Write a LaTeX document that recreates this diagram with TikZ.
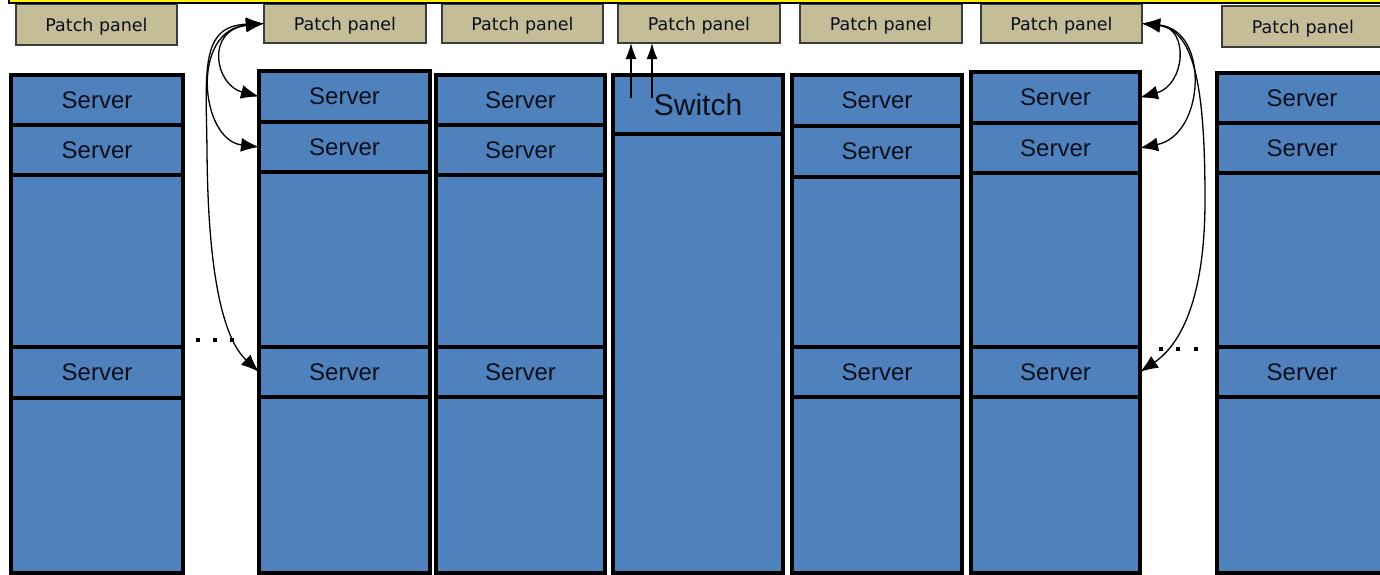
\documentclass[tikz,border=0pt]{standalone}
\usepackage{fontspec}
\setmainfont{Liberation Sans}
\newfontfamily\ppfont{DejaVu Sans}
\usetikzlibrary{arrows.meta}
\definecolor{rackblue}{HTML}{4F81BD}
\definecolor{patchtan}{HTML}{C4BD97}
\definecolor{txtc}{HTML}{0A0F1C}
\definecolor{ppborder}{HTML}{3C3C3C}
\begin{document}
\begin{tikzpicture}[x=1pt,y=-1pt,
  rack/.style={draw=black, line width=3.2pt, fill=rackblue, anchor=north west, inner sep=0pt, outer sep=0pt},
  srv/.style={draw=black, line width=3.2pt, fill=rackblue, anchor=north west, inner sep=0pt, outer sep=0pt,
     minimum height=50, text=txtc, font=\fontsize{24}{26}\selectfont},
  patch/.style={draw=ppborder, line width=2pt, fill=patchtan, anchor=north west, inner sep=0pt, outer sep=0pt,
     minimum height=39},
  ptext/.style={text=txtc, font=\ppfont\fontsize{17.5}{19}\selectfont},
  link/.style={line width=1.3pt, {Latex[length=18pt,width=14pt]}-{Latex[length=18pt,width=14pt]}},
  uplink/.style={line width=1.3pt, -{Latex[length=16pt,width=11pt]}},
  dot/.style={fill=black}
]
\useasboundingbox (0,0) rectangle (1380,574);

% patch panels
\node[patch, minimum width=161, minimum height=41] (p1) at (16,4) {};
\node[patch, minimum width=162] (p2) at (264,4) {};
\node[patch, minimum width=161] (p3) at (442,4) {};
\node[patch, minimum width=162] (p4) at (618,4) {};
\node[patch, minimum width=162] (p5) at (800,4) {};
\node[patch, minimum width=161] (p6) at (981,4) {};
\node[patch, minimum width=162, minimum height=41] (p7) at (1222,6) {};
\foreach \p in {p1,p2,p3,p4,p5,p6,p7}
  \node[ptext] (\p t) at ([yshift=-2pt]\p.center) {Patch panel};

% top band
\fill[yellow] (9,-3) rectangle (1384,2.4);
\draw[line width=1.4pt] (9,-3) -- (9,3) -- (1384,3);

% racks
\node[rack, minimum width=172, minimum height=498] (r1) at (11,75) {};
\node[rack, minimum width=171, minimum height=502] (r2) at (259,71) {};
\node[rack, minimum width=169, minimum height=498] (r3) at (436,75) {};
\node[rack, minimum width=170, minimum height=498] (r4) at (613,75) {};
\node[rack, minimum width=170, minimum height=498] (r5) at (792,75) {};
\node[rack, minimum width=169, minimum height=501] (r6) at (971,72) {};
\node[rack, minimum width=170, minimum height=500] (r7) at (1217,73) {};

% servers
\node[srv, minimum width=172] (s11) at (11,75) {Server};
\node[srv, minimum width=172] (s12) at (11,125) {Server};
\node[srv, minimum width=172, minimum height=51] (s13) at (11,347) {Server};

\node[srv, minimum width=171, minimum height=51] (s21) at (259,71) {Server};
\node[srv, minimum width=171] (s22) at (259,122) {Server};
\node[srv, minimum width=171] (s23) at (259,347) {Server};

\node[srv, minimum width=169] (s31) at (436,75) {Server};
\node[srv, minimum width=169] (s32) at (436,125) {Server};
\node[srv, minimum width=169] (s33) at (436,347) {Server};

\node[srv, minimum width=170, minimum height=59, font=\fontsize{30}{32}\selectfont] (sw) at (613,75) {Switch};

\node[srv, minimum width=170, minimum height=51] (s51) at (792,75) {Server};
\node[srv, minimum width=170, minimum height=51] (s52) at (792,126) {Server};
\node[srv, minimum width=170] (s53) at (792,347) {Server};

\node[srv, minimum width=169, minimum height=51] (s61) at (971,72) {Server};
\node[srv, minimum width=169] (s62) at (971,123) {Server};
\node[srv, minimum width=169] (s63) at (971,347) {Server};

\node[srv, minimum width=170] (s71) at (1217,73) {Server};
\node[srv, minimum width=170] (s72) at (1217,123) {Server};
\node[srv, minimum width=170] (s73) at (1217,347) {Server};

% left cabling
\draw[link] (p2.west) .. controls (205,30) and (215,85) .. (s21.west);
\draw[link] (p2.west) .. controls (190,30) and (200,140) .. (s22.west);
\draw[link] (p2.west) .. controls (200,26) and (206,70) .. (207,150)
   .. controls (208,300) and (230,345) .. (s23.west);

% right cabling
\draw[link] (p6.east) .. controls (1190,28) and (1185,85) .. (s61.east);
\draw[link] (p6.east) .. controls (1210,30) and (1205,135) .. (s62.east);
\draw[link] (p6.east) .. controls (1195,30) and (1205,90) .. (1205,200)
   .. controls (1205,300) and (1180,345) .. (s63.east);

% switch uplinks
\coordinate (u1) at (631,98);
\coordinate (u2) at (652,98);
\draw[uplink] (u1) -- (u1 |- p4.south);
\draw[uplink] (u2) -- (u2 |- p4.south);

% ellipses
\foreach \x in {198,215,232} \fill[dot] (\x-2.4,337.6) rectangle (\x+2.4,342.4);
\foreach \x in {1161,1178,1196} \fill[dot] (\x-2.4,346.6) rectangle (\x+2.4,351.4);
\end{tikzpicture}
\end{document}
